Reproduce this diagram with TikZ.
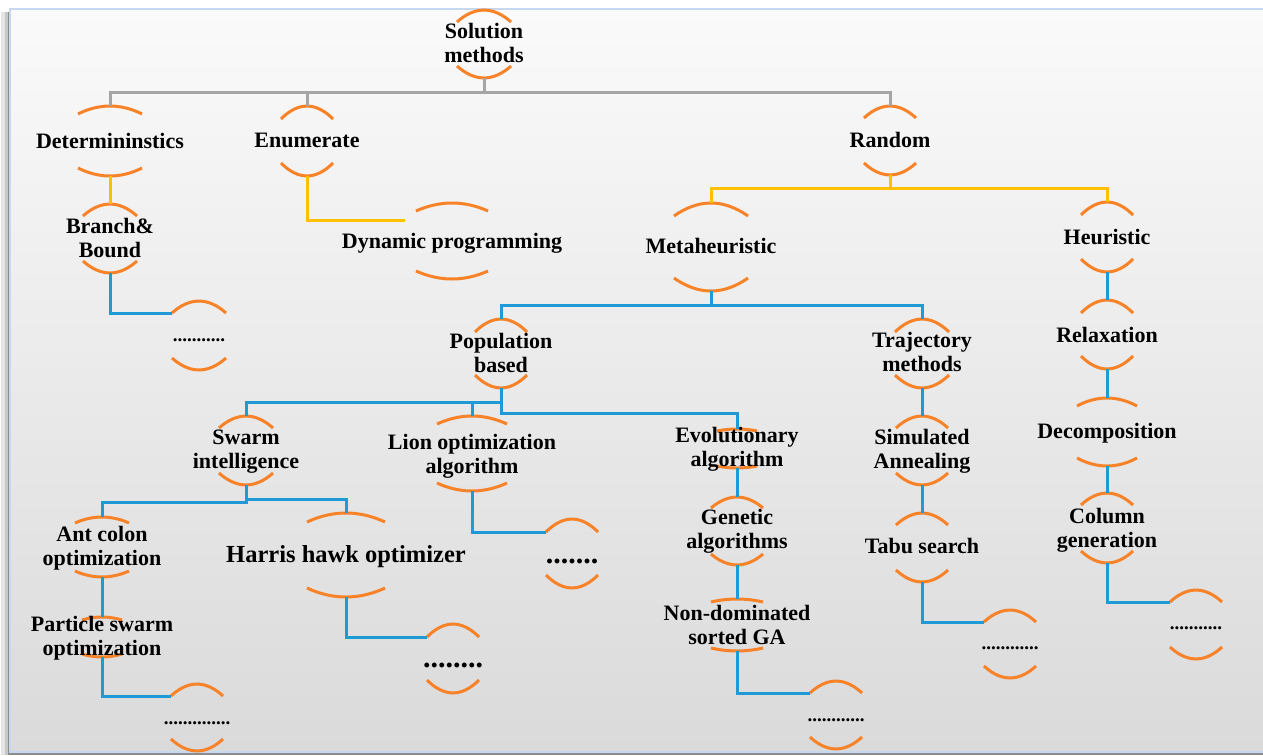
\documentclass[tikz,border=0pt]{standalone}
\usepackage{fontspec}
\setmainfont{Liberation Serif}
\usetikzlibrary{calc}
\definecolor{arcorange}{RGB}{247,130,40}
\definecolor{linkblue}{RGB}{30,155,215}
\definecolor{linkgold}{RGB}{255,192,0}
\definecolor{linkgray}{RGB}{165,165,165}
\definecolor{framecol}{RGB}{198,217,240}
\definecolor{bgtop}{RGB}{250,250,250}
\definecolor{bgbot}{RGB}{218,218,218}
\tikzset{
  lnk/.style={line width=3pt},
  grylink/.style={lnk, draw=linkgray},
  goldlink/.style={lnk, draw=linkgold},
  bluelink/.style={lnk, draw=linkblue},
  arcst/.style={draw=arcorange, line width=3pt},
  shp/.style={inner sep=0pt, outer sep=0pt, minimum width=1pt},
  lbl/.style={font=\bfseries\fontsize{22}{24}\selectfont, align=center, anchor=base, inner sep=0pt},
  biglbl/.style={lbl, font=\bfseries\fontsize{24.5}{27}\selectfont},
  dotlbl/.style={lbl, font=\bfseries\fontsize{19}{22}\selectfont},
  bigdot/.style={lbl, font=\bfseries\fontsize{30}{32}\selectfont},
}
% name, cx, top, bottom, half-width, sagitta
\newcommand\arcnode[6]{%
  \node[shp, minimum height={(#4-#3)*1pt}] (#1) at (#2,{(#3+#4)/2}) {};
  \draw[arcst] ($(#1.north)+(-#5,#6)$) coordinate (#1-l) parabola bend (#1.north) ($(#1.north)+(#5,#6)$);
  \draw[arcst] ($(#1.south)+(-#5,-#6)$) parabola bend (#1.south) ($(#1.south)+(#5,-#6)$);
}
\begin{document}
\begin{tikzpicture}[x=1pt,y=-1pt]
\useasboundingbox (0,0) rectangle (1263,755);
% background and frame
\fill[white] (0,0) rectangle (1263,755);
\fill[black!10] (1,12) rectangle (1263,755);
\fill[black!22] (5,12) rectangle (1263,755);
\fill[black!45] (8,12) rectangle (1263,755);
\shade[top color=bgtop, bottom color=bgbot] (10,9) rectangle (1263,752);
\draw[framecol, line width=1.6pt] (1270,9) -- (10,9) -- (10,752) -- (1270,752);

% nodes: arcs
\arcnode{sol}{484}{10}{78}{27}{12}
\arcnode{det}{110}{106}{176}{32}{8}
\arcnode{enu}{307}{106}{176}{26}{13}
\arcnode{ran}{890}{106}{175}{26}{12}
\arcnode{bb}{110}{204}{273}{27}{12}
\arcnode{dp}{452}{203}{279}{36}{8}
\arcnode{meta}{711}{203}{291}{37}{13}
\arcnode{heu}{1107}{202}{272}{26}{13}
\arcnode{bbd}{199}{301}{370}{27}{12}
\arcnode{pop}{501}{319}{388}{26}{13}
\arcnode{tra}{922}{319}{388}{27}{13}
\arcnode{rel}{1107}{300}{369}{26}{13}
\arcnode{dec}{1107}{398}{466}{30}{8}
\arcnode{swa}{246}{416}{485}{27}{12}
\arcnode{lio}{472}{416}{491}{35}{8}
\arcnode{evo}{737}{429}{468}{20}{2}
\arcnode{sim}{922}{416}{485}{26}{12}
\arcnode{col}{1107}{493}{563}{26}{12}
\arcnode{ant}{102}{517}{577}{27}{6}
\arcnode{har}{346}{513}{597}{39}{9}
\arcnode{lid}{572}{519}{588}{26}{13}
\arcnode{gen}{737}{497}{565}{26}{11}
\arcnode{tab}{922}{513}{582}{26}{12}
\arcnode{par}{102}{617}{657}{20}{3}
\arcnode{hd}{453}{624}{693}{26}{13}
\arcnode{nsg}{737}{599}{651}{26}{3}
\arcnode{tad}{1010}{610}{678}{26}{12}
\arcnode{cod}{1196}{590}{659}{26}{12}
\arcnode{pad}{197}{684}{751}{26}{12}
\arcnode{nsd}{836}{681}{749}{26}{12}

% texts (base anchor = baseline of the last line)
\node[lbl] (sol-t) at (484,62) {Solution\\methods};
\node[lbl] (det-t) at (110,148) {Determininstics};
\node[lbl] (enu-t) at (307,147) {Enumerate};
\node[lbl] (ran-t) at (890,147) {Random};
\node[lbl] (bb-t) at (110,257) {Branch\&\\Bound};
\node[lbl] (dp-t) at (452,248) {Dynamic programming};
\node[lbl] (meta-t) at (711,253) {Metaheuristic};
\node[lbl] (heu-t) at (1107,244) {Heuristic};
\node[dotlbl] (bbd-t) at (199,341) {...........};
\node[lbl] (pop-t) at (501,372) {Population\\based};
\node[lbl] (tra-t) at (922,371) {Trajectory\\methods};
\node[lbl] (rel-t) at (1107,342) {Relaxation};
\node[lbl] (dec-t) at (1107,438) {Decomposition};
\node[lbl] (swa-t) at (246,468) {Swarm\\intelligence};
\node[lbl] (lio-t) at (472,473) {Lion optimization\\algorithm};
\node[lbl] (evo-t) at (737,466) {Evolutionary\\algorithm};
\node[lbl] (sim-t) at (922,468) {Simulated\\Annealing};
\node[lbl] (col-t) at (1107,547) {Column\\generation};
\node[lbl] (ant-t) at (102,565) {Ant colon\\optimization};
\node[biglbl] (har-t) at (346,562) {Harris hawk optimizer};
\node[bigdot] (lid-t) at (572,563) {.......};
\node[lbl] (gen-t) at (737,548) {Genetic\\algorithms};
\node[lbl] (tab-t) at (922,553) {Tabu search};
\node[lbl] (par-t) at (102,655) {Particle swarm\\optimization};
\node[bigdot] (hd-t) at (453,667) {........};
\node[lbl] (nsg-t) at (737,644) {Non-dominated\\sorted GA};
\node[dotlbl] (tad-t) at (1010,649) {............};
\node[dotlbl] (cod-t) at (1196,629) {...........};
\node[dotlbl] (pad-t) at (197,724) {..............};
\node[dotlbl] (nsd-t) at (836,721) {............};

% junction coordinates
\coordinate (j-sol) at (484,92);
\coordinate (j-ran) at (890,188);
\coordinate (dp-in) at (405,220);
\coordinate (j-meta) at (711,305);
\coordinate (j-pop) at (501,402);
\coordinate (j-pop2) at (501,413);
\coordinate (j-swa) at (246,502);
\coordinate (j-swa2) at (246,499);

% gray connectors
\draw[grylink] (sol.south) -- (j-sol) -| (det.north);
\draw[grylink] (j-sol) -| (enu.north);
\draw[grylink] (j-sol) -| (ran.north);
% gold connectors
\draw[goldlink] (det.south) -- (bb.north);
\draw[goldlink] (enu.south) |- (dp-in);
\draw[goldlink] (ran.south) -- (j-ran) -| (meta.north);
\draw[goldlink] (j-ran) -| (heu.north);
% blue connectors
\draw[bluelink] (bb.south) |- (bbd-l);
\draw[bluelink] (meta.south) -- (j-meta) -| (pop.north);
\draw[bluelink] (j-meta) -| (tra.north);
\draw[bluelink] (heu.south) -- (rel.north);
\draw[bluelink] (rel.south) -- (dec.north);
\draw[bluelink] (dec.south) -- (col.north);
\draw[bluelink] (col.south) |- (cod-l);
\draw[bluelink] (pop.south) -- (j-pop2) -| (evo.north);
\draw[bluelink] (j-pop) -| (swa.north);
\draw[bluelink] (j-pop) -| (lio.north);
\draw[bluelink] (swa.south) -- (j-swa) -| (ant.north);
\draw[bluelink] (j-swa2) -| (har.north);
\draw[bluelink] (ant.south) -- (par.north);
\draw[bluelink] (par.south) |- (pad-l);
\draw[bluelink] (har.south) |- (hd-l);
\draw[bluelink] (lio.south) |- (lid-l);
\draw[bluelink] (evo.south) -- (gen.north);
\draw[bluelink] (gen.south) -- (nsg.north);
\draw[bluelink] (nsg.south) |- (nsd-l);
\draw[bluelink] (tra.south) -- (sim.north);
\draw[bluelink] (sim.south) -- (tab.north);
\draw[bluelink] (tab.south) |- (tad-l);
\end{tikzpicture}
\end{document}
